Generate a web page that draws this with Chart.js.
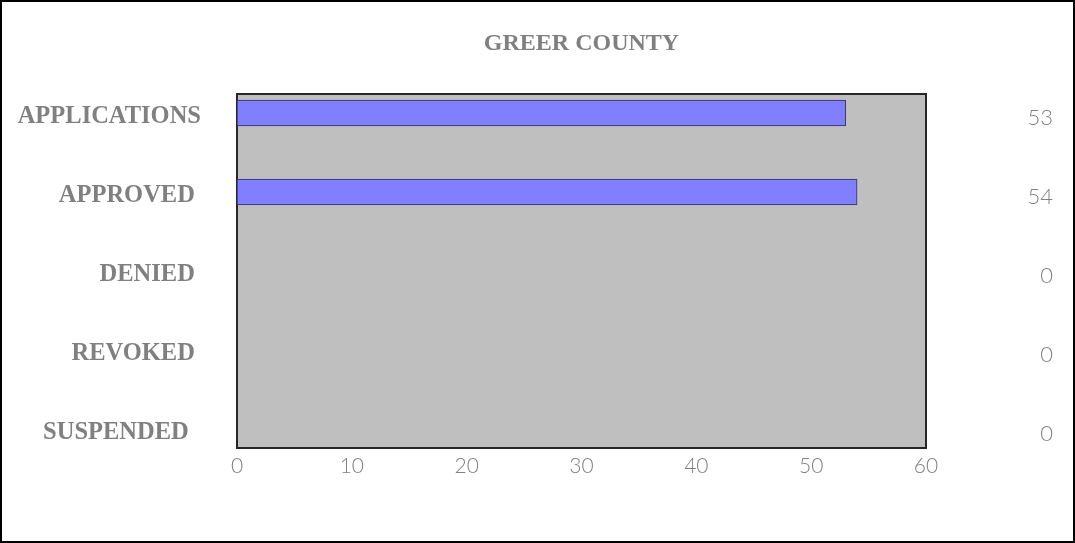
<!DOCTYPE html>
<html lang="en">
<head>
  <meta charset="UTF-8">
  <title>Greer County</title>
  <script src="https://cdn.jsdelivr.net/npm/chart.js"></script>
  <style>
    html, body { margin: 0; padding: 0; background: #fff; }
    #wrap { position: relative; width: 1075px; height: 543px; border: 2px solid #000; box-sizing: border-box; }
  </style>
</head>
<body>
  <div id="wrap"><canvas id="countyChart"></canvas></div>

  <script>
    const title = 'GREER COUNTY';
    const categories = ['APPLICATIONS', 'APPROVED ', 'DENIED ', 'REVOKED ', 'SUSPENDED  '];
    const values = [53, 54, 0, 0, 0];
    const xTicks = [0, 10, 20, 30, 40, 50, 60];

    const grey = '#808080';

    // grey plot background with a dark frame
    const plotFrame = {
      id: 'plotFrame',
      beforeDatasetsDraw(chart) {
        const a = chart.chartArea;
        const ctx = chart.ctx;
        ctx.save();
        ctx.fillStyle = '#BFBFBF';
        ctx.fillRect(a.left, a.top, a.right - a.left, a.bottom - a.top);
        ctx.strokeStyle = '#262626';
        ctx.lineWidth = 2;
        ctx.strokeRect(a.left, a.top, a.right - a.left, a.bottom - a.top);
        ctx.restore();
      }
    };

    // the value column on the right
    const valueColumn = {
      id: 'valueColumn',
      afterDraw(chart) {
        const ctx = chart.ctx;
        const y = chart.scales.y;
        ctx.save();
        ctx.font = '300 22px Lato';
        ctx.fillStyle = grey;
        ctx.textAlign = 'right';
        ctx.textBaseline = 'middle';
        values.forEach((v, i) => {
          ctx.fillText(String(v), chart.width - 20, y.getPixelForValue(i) + 5);
        });
        ctx.restore();
      }
    };

    const ctx = document.getElementById('countyChart').getContext('2d');
    new Chart(ctx, {
      type: 'bar',
      data: {
        datasets: [{
          data: values.map((v, i) => ({ x: v, y: i })),
          backgroundColor: '#7F7FFF',
          borderColor: '#2E2E5C',
          borderWidth: 1,
          borderSkipped: false,
          barThickness: 26
        }]
      },
      options: {
        indexAxis: 'y',
        responsive: true,
        maintainAspectRatio: false,
        animation: false,
        layout: { padding: { left: 0, right: 147, top: 0, bottom: 0 } },
        plugins: {
          legend: { display: false },
          tooltip: { enabled: false },
          title: {
            display: true,
            fullSize: false,
            text: title,
            color: grey,
            font: { family: 'Liberation Serif', size: 24, weight: 'bold' },
            padding: { top: 27.6, bottom: 35.6 }
          }
        },
        scales: {
          x: {
            type: 'linear',
            min: 0,
            max: 60,
            grid: { display: false, drawTicks: false },
            border: { display: false },
            afterBuildTicks: s => { s.ticks = xTicks.map(v => ({ value: v })); },
            afterFit: s => { s.height = 93; },
            ticks: {
              color: grey,
              padding: 6,
              font: { family: 'Lato', size: 21, weight: 300 }
            }
          },
          y: {
            type: 'linear',
            offset: false,
            reverse: true,
            min: -0.24,
            max: 4.24,
            grid: { display: false, drawTicks: false, offset: false },
            border: { display: false },
            afterBuildTicks: s => { s.ticks = categories.map((c, i) => ({ value: i })); },
            afterFit: s => { s.width = 235; },
            ticks: {
              color: grey,
              padding: 36,
              labelOffset: 4,
              font: { family: 'Liberation Serif', size: 24.5, weight: 'bold' },
              callback: v => categories[v]
            }
          }
        }
      },
      plugins: [plotFrame, valueColumn]
    });
  </script>
</body>
</html>
